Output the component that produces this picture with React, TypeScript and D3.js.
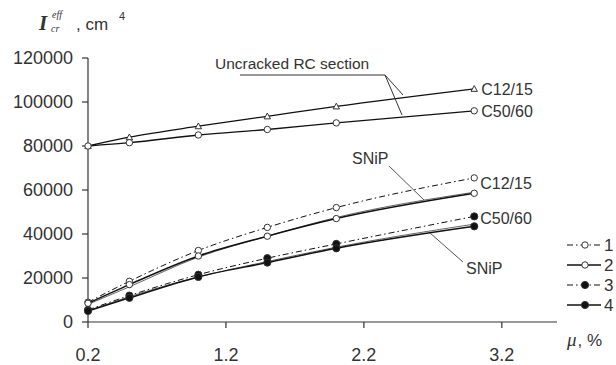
import { useMemo } from "react";
import * as d3 from "d3";

// reinforcement ratio, %
const mu = [0.2, 0.5, 1.0, 1.5, 2.0, 3.0];

// uncracked RC section
const uncrackedC12 = [80000, 84000, 89000, 93500, 98000, 106000];
const uncrackedC50 = [80000, 81500, 85000, 87500, 90500, 96000];

// cracked section, series 1..4
const s1 = [9000, 18500, 32500, 43000, 52000, 65500];
const s2 = [8500, 17000, 30000, 39000, 47000, 58500];
const s3 = [5500, 12000, 21500, 29000, 35500, 48000];
const s4 = [5000, 11000, 20500, 27000, 33500, 43500];

// SNiP curves (no markers)
const snipC12 = [8000, 16000, 29500, 39000, 47500, 59000];
const snipC50 = [5000, 11500, 20500, 27500, 34000, 44500];

const yTicks = [0, 20000, 40000, 60000, 80000, 100000, 120000];
const xTicks = [0.2, 1.2, 2.2, 3.2];
const legendKeys = ["1", "2", "3", "4"];

const W = 616;
const H = 365;
const INK = "#333";
const FONT = "Arial, 'Liberation Sans', sans-serif";
const SERIF = "'Liberation Serif', 'Times New Roman', serif";
const DASHDOT = "6,3,1.5,3";

type Series = { values: number[]; dash?: string; marker: "open" | "filled" | "tri" | "none"; width: number };

export default function App() {
  const x = useMemo(() => d3.scaleLinear().domain([0.2, 3.6]).range([88, 557]), []);
  const y = useMemo(() => d3.scaleLinear().domain([0, 120000]).range([322, 58]), []);

  const line = d3
    .line<number>()
    .x((_, i) => x(mu[i]))
    .y((d) => y(d))
    .curve(d3.curveMonotoneX);

  const series: Series[] = [
    { values: uncrackedC12, marker: "tri", width: 1.3 },
    { values: uncrackedC50, marker: "open", width: 1.3 },
    { values: snipC12, marker: "none", width: 0.9 },
    { values: snipC50, marker: "none", width: 0.9 },
    { values: s1, dash: DASHDOT, marker: "open", width: 1 },
    { values: s2, marker: "open", width: 1.5 },
    { values: s3, dash: DASHDOT, marker: "filled", width: 1 },
    { values: s4, marker: "filled", width: 1.5 },
  ];

  const marker = (kind: Series["marker"], cx: number, cy: number, key: string) => {
    if (kind === "none") return null;
    if (kind === "tri") {
      const s = 3.2;
      return (
        <path
          key={key}
          d={`M${cx},${cy - s}L${cx + s},${cy + s * 0.8}L${cx - s},${cy + s * 0.8}Z`}
          fill="#fff"
          stroke={INK}
          strokeWidth={1}
        />
      );
    }
    const r = kind === "filled" ? 3.6 : 3.2;
    return (
      <circle key={key} cx={cx} cy={cy} r={r} fill={kind === "filled" ? "#111" : "#fff"} stroke={INK} strokeWidth={1} />
    );
  };

  const legendStyles: Series[] = [
    { values: [], dash: DASHDOT, marker: "open", width: 1 },
    { values: [], marker: "open", width: 1.5 },
    { values: [], dash: DASHDOT, marker: "filled", width: 1 },
    { values: [], marker: "filled", width: 1.5 },
  ];

  return (
    <svg width={W} height={H} style={{ position: "absolute", left: 0, top: 0, background: "#fff" }} fontFamily={FONT}>
      {/* y-axis title: I_cr^eff, cm^4 */}
      <text x={39} y={30} fontFamily={SERIF} fontStyle="italic" fontWeight="bold" fontSize={21} fill={INK}>
        I
      </text>
      <text x={52} y={18} fontFamily={SERIF} fontStyle="italic" fontSize={10} fill={INK}>
        eff
      </text>
      <text x={51} y={32} fontFamily={SERIF} fontStyle="italic" fontSize={10} fill={INK}>
        cr
      </text>
      <text x={76} y={30} fontSize={17} fill={INK}>
        , cm
      </text>
      <text x={119} y={20} fontSize={11} fill={INK}>
        4
      </text>

      {/* y axis */}
      <line x1={88} x2={88} y1={y(120000)} y2={y(0)} stroke={INK} strokeWidth={1.2} />
      {yTicks.map((t) => (
        <g key={t}>
          <line x1={82} x2={88} y1={y(t)} y2={y(t)} stroke={INK} strokeWidth={1.2} />
          <text x={73} y={y(t)} dy="0.36em" textAnchor="end" fontSize={18} fill={INK}>
            {t}
          </text>
        </g>
      ))}

      {/* x axis */}
      <line x1={x(0.2)} x2={x(3.6)} y1={y(0)} y2={y(0)} stroke={INK} strokeWidth={1.2} />
      {xTicks.map((t) => (
        <g key={t}>
          <line x1={x(t)} x2={x(t)} y1={y(0)} y2={y(0) + 6} stroke={INK} strokeWidth={1.2} />
          <text x={x(t)} y={361} textAnchor="middle" fontSize={18} fill={INK}>
            {t.toFixed(1)}
          </text>
        </g>
      ))}
      <text x={567} y={346} fontSize={17} fill={INK}>
        <tspan fontFamily={SERIF} fontStyle="italic" fontSize={19}>
          μ
        </tspan>
        <tspan dx={1}>, %</tspan>
      </text>

      {/* curves */}
      {series.map((s, i) => (
        <path
          key={`l${i}`}
          d={line(s.values) ?? ""}
          fill="none"
          stroke={i >= 2 && i <= 3 ? "#555" : "#111"}
          strokeWidth={s.width}
          strokeDasharray={s.dash}
        />
      ))}
      {series.map((s, i) => s.values.map((v, j) => marker(s.marker, x(mu[j]), y(v), `m${i}-${j}`)))}

      {/* annotations */}
      <text x={215} y={69} fontSize={15.5} fill={INK}>
        Uncracked RC section
      </text>
      <path d="M240,75L385,75L403,95M385,75L402,115" fill="none" stroke={INK} strokeWidth={1} />
      <text x={x(3.0) + 7} y={y(uncrackedC12[5])} dy="0.36em" fontSize={16} fill={INK}>
        C12/15
      </text>
      <text x={x(3.0) + 7} y={y(uncrackedC50[5])} dy="0.36em" fontSize={16} fill={INK}>
        C50/60
      </text>
      <text x={x(3.0) + 6} y={y(s1[5]) + 5} dy="0.36em" fontSize={16} fill={INK}>
        C12/15
      </text>
      <text x={x(3.0) + 6} y={y(s3[5]) + 2} dy="0.36em" fontSize={16} fill={INK}>
        C50/60
      </text>
      <text x={352} y={164} fontSize={16} fill={INK}>
        SNiP
      </text>
      <line x1={389} y1={166} x2={424} y2={200} stroke="#555" strokeWidth={1} />
      <text x={466} y={274} fontSize={16} fill={INK}>
        SNiP
      </text>
      <line x1={430} y1={233} x2={463} y2={262} stroke="#555" strokeWidth={1} />

      {/* legend */}
      {legendStyles.map((s, i) => {
        const ly = 245 + i * 20;
        return (
          <g key={`lg${i}`}>
            <line x1={567} x2={601} y1={ly} y2={ly} stroke="#111" strokeWidth={s.width} strokeDasharray={s.dash} />
            {marker(s.marker, 585, ly, `lgm${i}`)}
            <text x={604} y={ly} dy="0.36em" fontSize={17} fill={INK}>
              {legendKeys[i]}
            </text>
          </g>
        );
      })}
    </svg>
  );
}
